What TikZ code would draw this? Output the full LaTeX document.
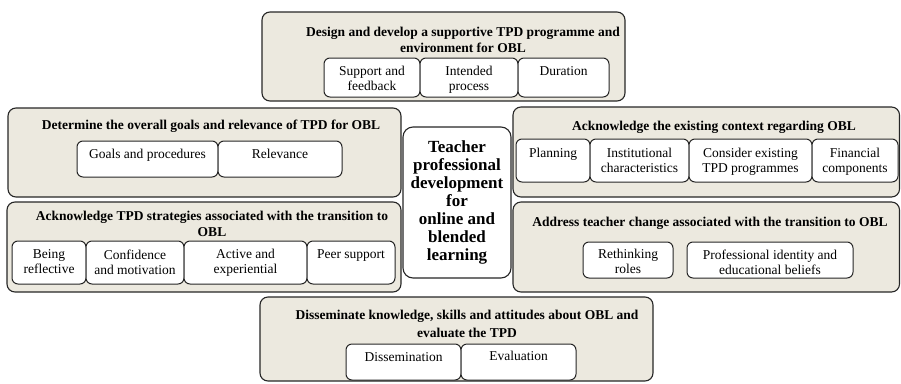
\documentclass[tikz,border=0pt]{standalone}
\usepackage{fontspec}
\setmainfont{Liberation Serif}
\definecolor{panelfill}{RGB}{236,233,223}
\tikzset{
  panel/.style={draw=black!85, fill=panelfill, line width=1.1pt, rounded corners=8pt},
  item/.style={draw=black!85, fill=white, line width=1pt, rounded corners=6pt},
  head/.style={font=\fontsize{13.5}{16}\selectfont\bfseries, align=center, anchor=north, inner sep=0pt},
  itemtext/.style={font=\fontsize{13.5}{15}\selectfont, align=center, anchor=north, inner sep=0pt},
}
\begin{document}
\begin{tikzpicture}[x=1pt, y=-1pt]
\useasboundingbox (0,0) rectangle (901,383);
% outer panels
\draw[panel] (262,12) rectangle (625,101);
\draw[panel] (8,108) rectangle (401,197);
\draw[panel] (7,202) rectangle (401,292);
\draw[panel] (513,107) rectangle (899.5,197);
\draw[panel] (513,202) rectangle (899.5,292);
\draw[panel] (260,297) rectangle (653,381);
% centre
\node[draw=black!85, fill=white, line width=1.1pt, rounded corners=10pt, minimum width=108pt, minimum height=151pt,
  font=\fontsize{17}{18}\selectfont\bfseries, align=center] (tpd) at (457,202.5)
  {Teacher\\professional\\development\\for\\online and\\blended\\learning};
% headings
\node[head] (design) at (463,27) {Design and develop a supportive TPD programme and\\environment for OBL};
\node[head] (goals) at (211,120) {Determine the overall goals and relevance of TPD for OBL};
\node[head] (strat) at (212,211) {Acknowledge TPD strategies associated with the transition to\\OBL};
\node[head] (context) at (714,121) {Acknowledge the existing context regarding OBL};
\node[head] (change) at (710,217) {Address teacher change associated with the transition to OBL};
\node[head, font=\fontsize{13.5}{17.5}\selectfont\bfseries] (dissem) at (467,310) {Disseminate knowledge, skills and attitudes about OBL and\\evaluate the TPD};
% items
\draw[item] (324,58) rectangle (420,97) node[itemtext] (sf) at (372,66) {Support and\\feedback};
\draw[item] (420,58) rectangle (518,97) node[itemtext] (ip) at (469,66) {Intended\\process};
\draw[item] (518,58) rectangle (609,97) node[itemtext] (du) at (563.5,66) {Duration};
\draw[item] (77,141) rectangle (218,177) node[itemtext] (gp) at (147.5,149) {Goals and procedures};
\draw[item] (218,141) rectangle (342,177) node[itemtext] (rel) at (280,149) {Relevance};
\draw[item] (12,241) rectangle (86,284) node[itemtext] (br) at (49,249) {Being\\reflective};
\draw[item] (86,241) rectangle (184,284) node[itemtext] (cm) at (135,249) {Confidence\\and motivation};
\draw[item] (184,241) rectangle (307,284) node[itemtext] (ae) at (245.5,249) {Active and\\experiential};
\draw[item] (307,241) rectangle (395,284) node[itemtext] (ps) at (351,249) {Peer support};
\draw[item] (516,139) rectangle (590,182) node[itemtext] (pl) at (553,148) {Planning};
\draw[item] (590,139) rectangle (689,182) node[itemtext] (ic) at (639.5,148) {Institutional\\characteristics};
\draw[item] (689,139) rectangle (812,182) node[itemtext] (ce) at (750.5,148) {Consider existing\\TPD programmes};
\draw[item] (812,139) rectangle (898,182) node[itemtext] (fc) at (855,148) {Financial\\components};
\draw[item] (583,242) rectangle (673,278) node[itemtext] (rr) at (628,249) {Rethinking\\roles};
\draw[item] (687,242) rectangle (853,278) node[itemtext] (pi) at (770,249) {Professional identity and\\educational beliefs};
\draw[item] (346,344) rectangle (461,380) node[itemtext] (dis) at (403.5,352) {Dissemination};
\draw[item] (461,344) rectangle (576,380) node[itemtext] (eva) at (518.5,351) {Evaluation};
\end{tikzpicture}
\end{document}
